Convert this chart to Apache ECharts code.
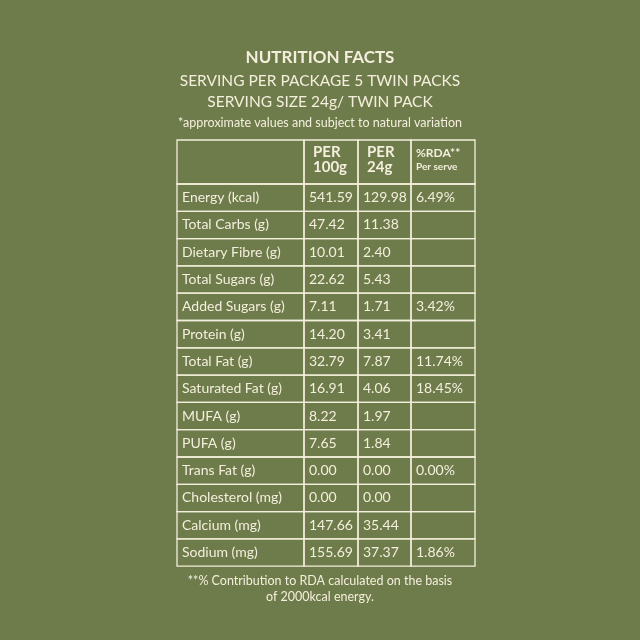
<!DOCTYPE html>
<html><head><meta charset="utf-8">
<script src="https://cdn.jsdelivr.net/npm/echarts@6/dist/echarts.min.js"></script>
<style>html,body{margin:0;padding:0;background:#6e7b4b}#c{width:640px;height:640px}</style>
</head><body><div id="c"></div>
<script>
const headers = ["", "PER\n100g", "PER\n24g", "%RDA**"];
const nutrients = ["Energy (kcal)","Total Carbs (g)","Dietary Fibre (g)","Total Sugars (g)","Added Sugars (g)","Protein (g)","Total Fat (g)","Saturated Fat (g)","MUFA (g)","PUFA (g)","Trans Fat (g)","Cholesterol (mg)","Calcium (mg)","Sodium (mg)"];
const per100g = ["541.59","47.42","10.01","22.62","7.11","14.20","32.79","16.91","8.22","7.65","0.00","0.00","147.66","155.69"];
const per24g = ["129.98","11.38","2.40","5.43","1.71","3.41","7.87","4.06","1.97","1.84","0.00","0.00","35.44","37.37"];
const rda = ["6.49%","","","","3.42%","","11.74%","18.45%","","","0.00%","","","1.86%"];

const colW = [127, 54, 53, 64];
const headH = 44, rowH = 27.3;
const colX = [0]; colW.forEach((w,i)=>colX.push(colX[i]+w));
const totalW = colX[colX.length-1], totalH = headH + rowH*nutrients.length;
const fg = '#f4efdc';

const cells = [];
headers.forEach((h,c)=>cells.push([c,-1,h]));
nutrients.forEach((n,r)=>{cells.push([0,r,n]);cells.push([1,r,per100g[r]]);cells.push([2,r,per24g[r]]);cells.push([3,r,rda[r]]);});

const chart = echarts.init(document.getElementById('c'));
chart.setOption({
  backgroundColor:'#6e7b4b',
  title:[
    {text:'NUTRITION FACTS',left:'center',top:44,textStyle:{color:fg,fontSize:17,fontWeight:'bold',fontFamily:'Lato'}},
    {text:'SERVING PER PACKAGE 5 TWIN PACKS',left:'center',top:68,textStyle:{color:fg,fontSize:15.5,fontWeight:'normal',fontFamily:'Lato'}},
    {text:'SERVING SIZE 24g/ TWIN PACK',left:'center',top:89,textStyle:{color:fg,fontSize:15.5,fontWeight:'normal',fontFamily:'Lato'}},
    {text:'*approximate values and subject to natural variation',left:'center',top:111,textStyle:{color:fg,fontSize:12.5,fontWeight:'normal',fontFamily:'Lato'}}
  ],
  graphic:[
    {type:'text',x:320,y:573,style:{text:'**% Contribution to RDA calculated on the basis\nof 2000kcal energy.',fill:fg,font:'12.5px Lato',align:'center',lineHeight:16}}
  ],
  grid:{left:177,top:140,width:totalW,height:totalH},
  xAxis:{type:'value',min:0,max:totalW,show:false},
  yAxis:{type:'value',min:0,max:totalH,inverse:true,show:false},
  series:[{
    type:'custom',
    data:cells,
    renderItem:function(params,api){
      const c=api.value(0), r=api.value(1), t=cells[params.dataIndex][2];
      const y0 = r<0?0:headH+r*rowH, y1 = r<0?headH:headH+(r+1)*rowH;
      const p0=api.coord([colX[c],y0]), p1=api.coord([colX[c+1],y1]);
      const children=[{type:'rect',shape:{x:p0[0],y:p0[1],width:p1[0]-p0[0],height:p1[1]-p0[1]},style:{fill:'none',stroke:fg,lineWidth:1.3}}];
      if(r<0){
        if(c===3){
          children.push({type:'text',style:{x:p0[0]+5,y:p0[1]+13,text:'%RDA**',fill:fg,font:'bold 12px Lato',verticalAlign:'middle'}});
          children.push({type:'text',style:{x:p0[0]+5,y:p0[1]+27,text:'Per serve',fill:fg,font:'bold 10px Lato',verticalAlign:'middle'}});
        } else if(t){
          children.push({type:'text',style:{x:p0[0]+9,y:p0[1]+20,text:t,fill:fg,font:'bold 15px Lato',verticalAlign:'middle',lineHeight:15}});
        }
      } else {
        children.push({type:'text',style:{x:p0[0]+5,y:(p0[1]+p1[1])/2,text:t,fill:fg,font:'14px Lato',verticalAlign:'middle'}});
      }
      return {type:'group',children};
    }
  }]
});
</script></body></html>
